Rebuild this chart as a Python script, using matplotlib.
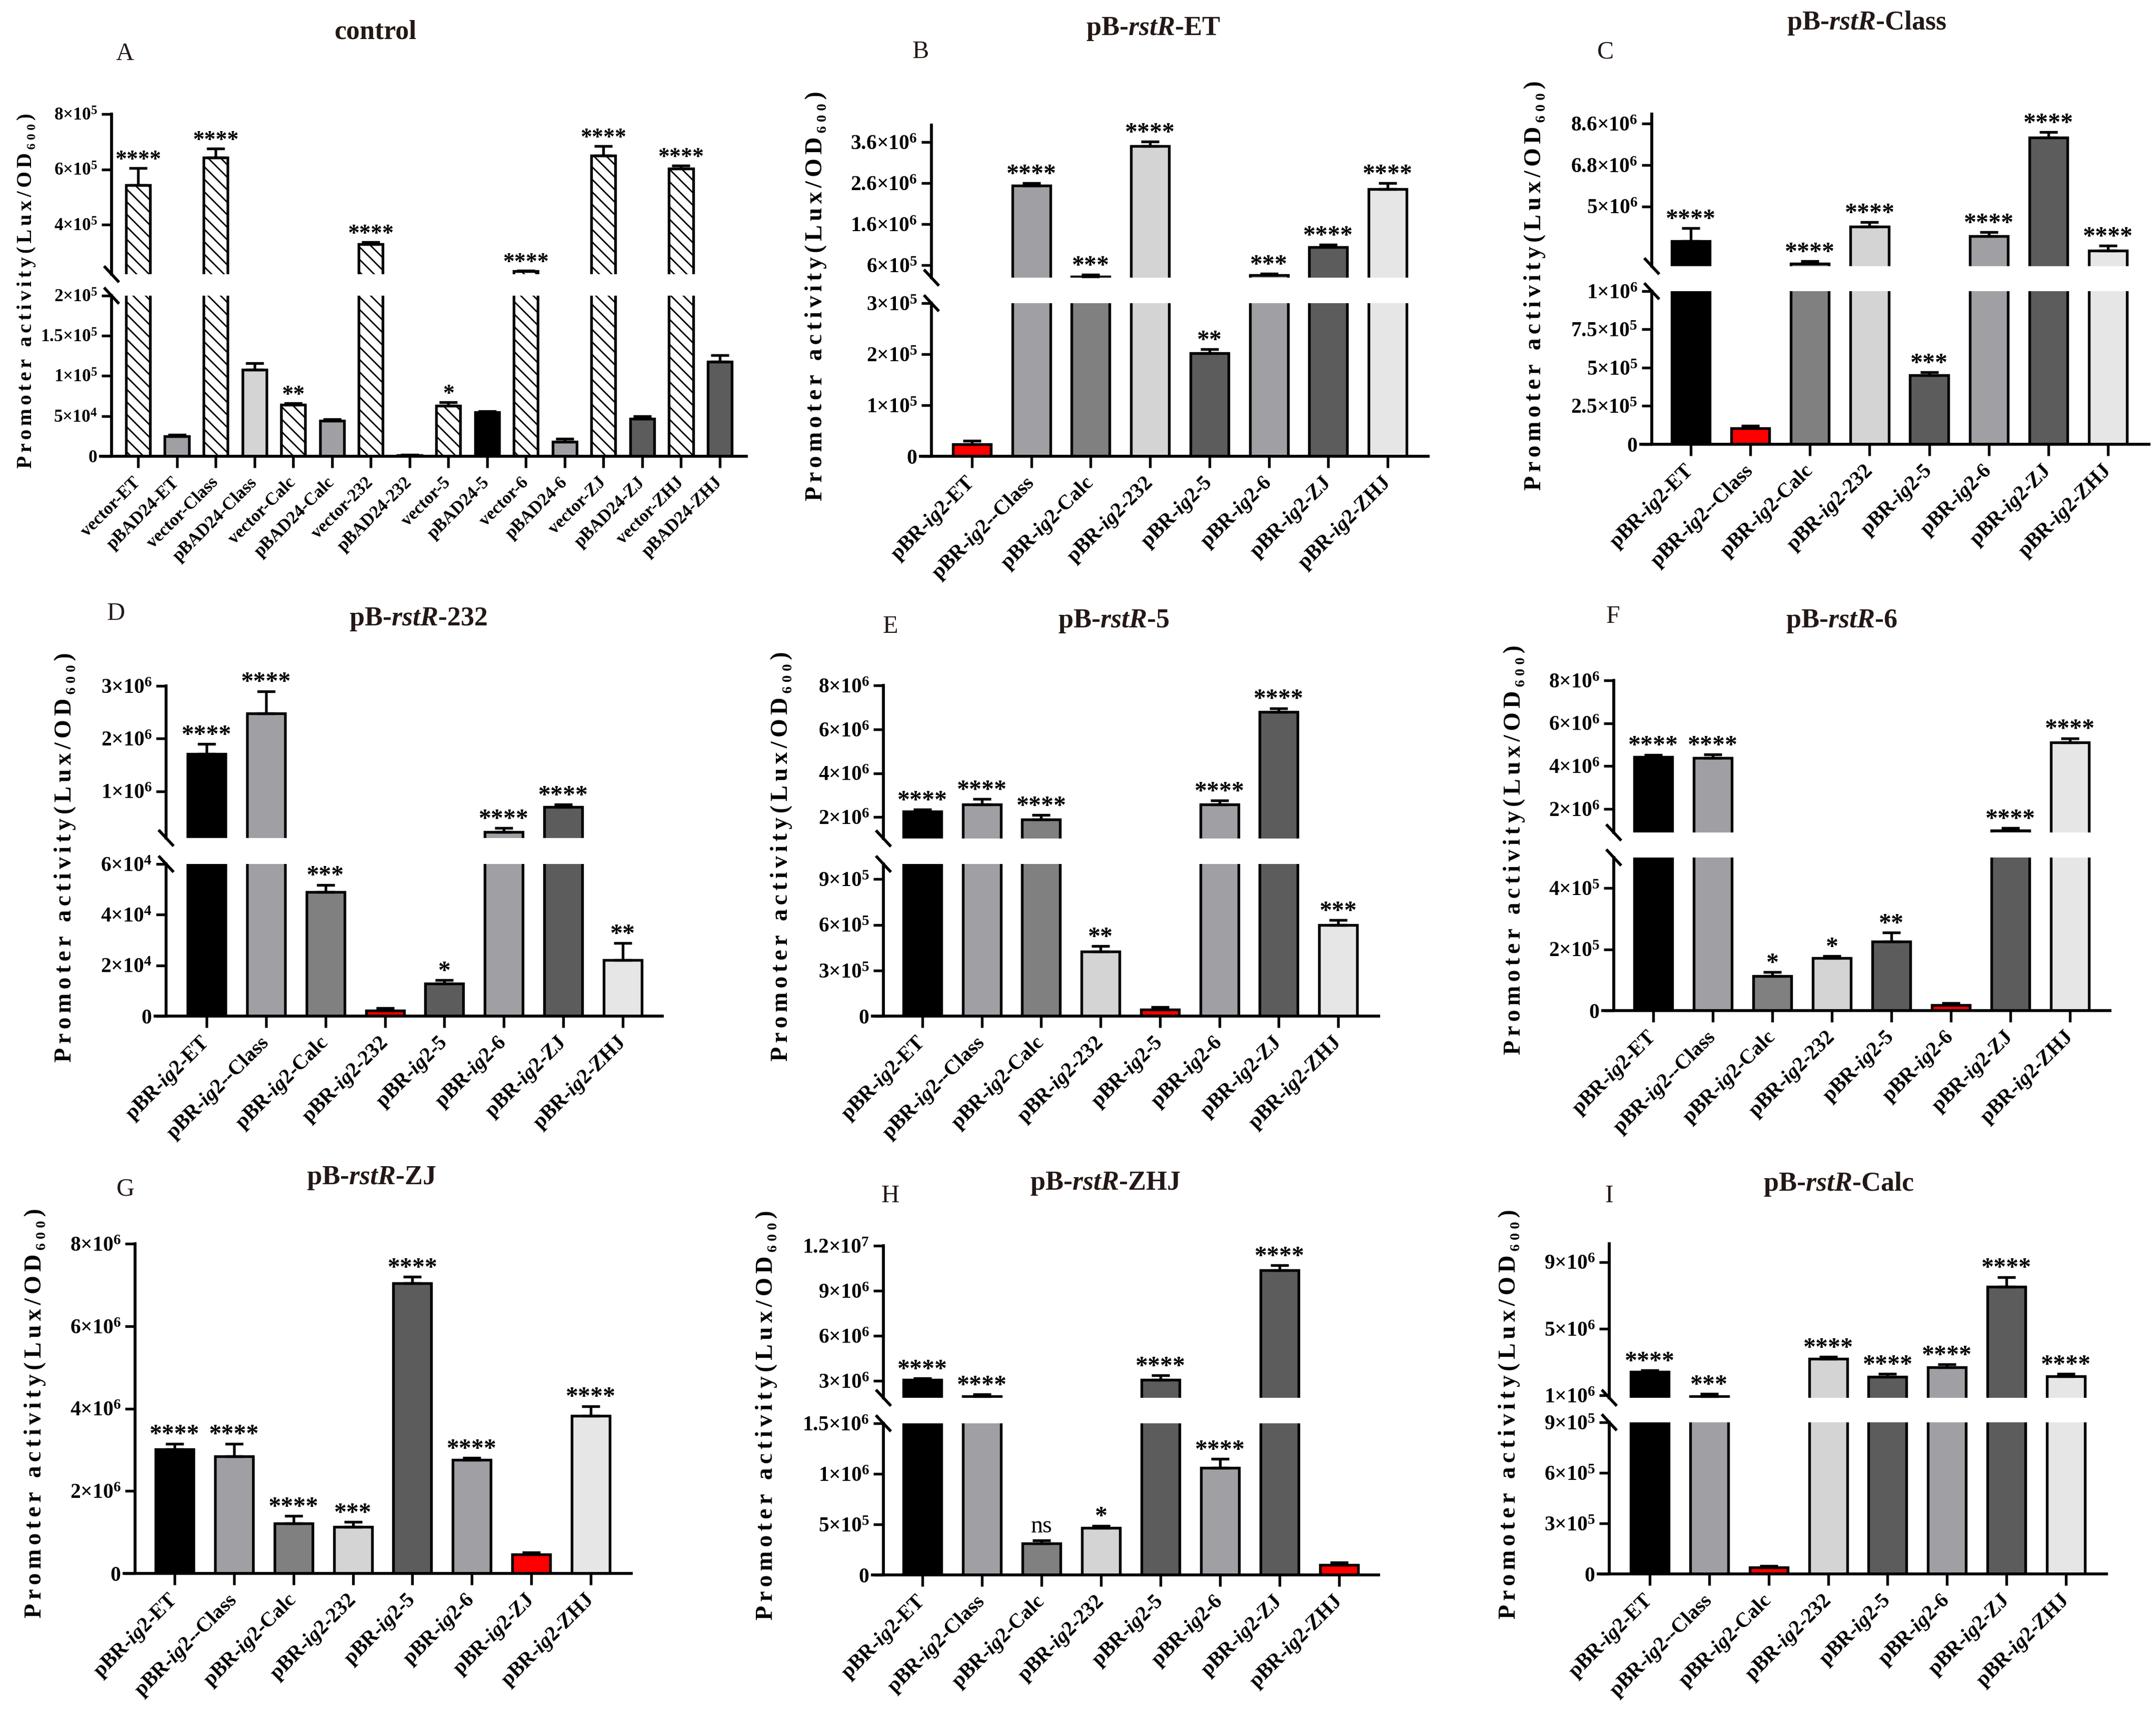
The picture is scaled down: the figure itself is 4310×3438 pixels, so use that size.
import numpy as np
import matplotlib
matplotlib.use('Agg')
import matplotlib.pyplot as plt
from matplotlib.lines import Line2D

plt.rcParams['font.family'] = ['Liberation Serif', 'DejaVu Serif']
plt.rcParams['mathtext.fontset'] = 'custom'
plt.rcParams['mathtext.rm'] = 'Liberation Serif:bold'
plt.rcParams['mathtext.bf'] = 'Liberation Serif:bold'
plt.rcParams['mathtext.it'] = 'Liberation Serif:italic:bold'
plt.rcParams['hatch.linewidth'] = 0.7
plt.rcParams['hatch.color'] = 'black'

W, H, DPI = 4310, 3438, 300

# colours
BK = '#000000'; G1 = '#a0a0a4'; G2 = '#808080'; G3 = '#d4d4d4'
G4 = '#5b5c5b'; G5 = '#e6e6e6'; RED = '#ff0000'; WH = '#ffffff'
HT = '\\\\\\\\'

# ---------------- data ----------------
# A: control
a_labels = ['vector-ET', 'pBAD24-ET', 'vector-Class', 'pBAD24-Class', 'vector-Calc',
            'pBAD24-Calc', 'vector-232', 'pBAD24-232', 'vector-5', 'pBAD24-5',
            'vector-6', 'pBAD24-6', 'vector-ZJ', 'pBAD24-ZJ', 'vector-ZHJ', 'pBAD24-ZHJ']
a_mean = [5.44e5, 2.5e4, 6.42e5, 1.08e5, 6.4e4, 4.4e4, 3.3e5, 1.5e3,
          6.3e4, 5.5e4, 2.32e5, 1.8e4, 6.5e5, 4.7e4, 6.03e5, 1.18e5]
a_err = [6.1e4, 2e3, 3.3e4, 8e3, 2e3, 2e3, 8e3, 5e2,
         4e3, 1e3, 2e3, 4e3, 3.4e4, 3e3, 1.1e4, 8e3]
a_sig = ['****', '', '****', '', '**', '', '****', '', '*', '', '****', '', '****', '', '****', '']
a_col = [WH, G1, WH, G3, WH, G1, WH, G3, WH, BK, WH, G1, WH, G4, WH, G4]
a_hatch = [HT, None] * 8

# B-I: pBR-ig2 reporters
ig2 = ['ET', 'Class', 'Calc', '232', '5', '6', 'ZJ', 'ZHJ']
lab_dd = [r'pBR-$\mathit{ig2}$--Class' if s == 'Class' else r'pBR-$\mathit{ig2}$-' + s for s in ig2]
lab_d = [r'pBR-$\mathit{ig2}$-' + s for s in ig2]
base_col = [BK, G1, G2, G3, G4, G1, G4, G5]

b_mean = [2.4e4, 2.54e6, 3.2e5, 3.51e6, 2.02e5, 3.6e5, 1.04e6, 2.46e6]
b_err = [6e3, 6e4, 5.6e4, 1.1e5, 8e3, 4e4, 6e4, 1.4e5]
b_sig = ['', '****', '***', '****', '**', '***', '****', '****']

c_mean = [3.48e6, 1.05e5, 2.5e6, 4.12e6, 4.52e5, 3.7e6, 8.0e6, 3.08e6]
c_err = [5.7e5, 1.5e4, 1.2e5, 2e5, 1.8e4, 1.8e5, 2.3e5, 2.2e5]
c_sig = ['****', '', '****', '****', '***', '****', '****', '****']

d_mean = [1.71e6, 2.48e6, 4.89e4, 2.2e3, 1.28e4, 2.3e5, 7.0e5, 2.22e4]
d_err = [1.9e5, 4.2e5, 2.9e3, 1.0e3, 1.4e3, 7e4, 5e4, 6.6e3]
d_sig = ['****', '****', '***', '', '*', '****', '****', '**']

e_mean = [2.27e6, 2.57e6, 1.9e6, 4.23e5, 4.4e4, 2.57e6, 6.8e6, 5.98e5]
e_err = [8e4, 2.5e5, 2e5, 3.6e4, 1.6e4, 1.8e5, 1.6e5, 3.2e4]
e_sig = ['****', '****', '****', '**', '', '****', '****', '***']

f_mean = [4.43e6, 4.38e6, 1.13e5, 1.71e5, 2.25e5, 1.8e4, 1.0e6, 5.1e6]
f_err = [1e5, 1.7e5, 1.3e4, 7e3, 3e4, 6e3, 1e5, 2e5]
f_sig = ['****', '****', '*', '*', '**', '', '****', '****']

g_mean = [3.01e6, 2.84e6, 1.22e6, 1.13e6, 7.04e6, 2.76e6, 4.6e5, 3.82e6]
g_err = [1.4e5, 3.1e5, 1.8e5, 1.2e5, 1.6e5, 4e4, 5e4, 2.4e5]
g_sig = ['****', '****', '****', '***', '****', '****', '', '****']

h_mean = [3.05e6, 1.95e6, 3.1e5, 4.65e5, 3.05e6, 1.06e6, 1.036e7, 1.0e5]
h_err = [1.2e5, 1.5e5, 3e4, 2.2e4, 3.2e5, 9e4, 3.4e5, 2.6e4]
h_sig = ['****', '****', 'ns', '*', '****', '****', '****', '']

i_mean = [2.4e6, 0.93e6, 3.9e4, 3.19e6, 2.1e6, 2.67e6, 7.53e6, 2.15e6]
i_err = [1e5, 1.5e5, 8e3, 1.3e5, 2e5, 2e5, 5.7e5, 1.5e5]
i_sig = ['****', '***', '', '****', '****', '****', '****', '****']


def red_at(k):
    c = list(base_col)
    c[k] = RED
    return c


def fmt(v):
    if v == 0:
        return r'$\mathbf{0}$'
    e = int(np.floor(np.log10(v) + 1e-9))
    m = round(v / 10 ** e, 2)
    return r'$\mathbf{%g{\times}10^{%d}}$' % (m, e)


fig = plt.figure(figsize=(W / DPI, H / DPI), dpi=DPI)


def fx(x):
    return x / W


def fy(y):
    return 1 - y / H


def brk_mark(x, y):
    fig.add_artist(Line2D([fx(x - 13), fx(x + 13)], [fy(y - 14), fy(y + 14)],
                          transform=fig.transFigure, color='k', lw=1.4))


def panel(g, labels, mean, err, sig, cols, hatches, ranges, ticks, title, letter,
          bw=0.64, ys=10, xs=10, ss=12, ls=11.5):
    n = len(mean)
    x = np.arange(n)
    sp = (g['last'] - g['first']) / (n - 1)
    xstart = g['spine'] - 22
    wid = g['right'] - xstart
    xl = (xstart - g['first']) / sp
    xr = (n - 1) + (g['right'] - g['last']) / sp
    if len(ranges) == 2:
        segs = [(g['brk_bot'], g['base']), (g['top'], g['brk_top'])]
    else:
        segs = [(g['top'], g['base'])]
    axes = []
    for k, (y0, y1) in enumerate(segs):
        ax = fig.add_axes([fx(xstart), fy(y1), wid / W, (y1 - y0) / H])
        ax.set_xlim(xl, xr)
        ax.set_ylim(*ranges[k])
        bars = ax.bar(x, mean, bw, color=cols, edgecolor='k', linewidth=1.3, zorder=2)
        for b, h in zip(bars, hatches):
            if h:
                b.set_hatch(h)
        ax.errorbar(x, mean, yerr=[np.zeros(n), err], fmt='none', ecolor='k',
                    elinewidth=1.3, capsize=4.4, capthick=1.3, zorder=3)
        for s in ['top', 'right']:
            ax.spines[s].set_visible(False)
        ax.spines['left'].set_position(('axes', 22 / wid))
        ax.spines['left'].set_linewidth(1.4)
        ax.spines['bottom'].set_linewidth(1.4)
        ax.set_yticks(ticks[k], labels=[fmt(t) for t in ticks[k]])
        ax.tick_params(axis='y', direction='out', length=4.8, width=1.3, labelsize=ys, pad=2)
        if k == 0:
            ax.set_xticks(x)
            ax.set_xticklabels(labels, rotation=45, ha='right', va='center',
                               rotation_mode='anchor', fontsize=xs, fontweight='bold')
            ax.tick_params(axis='x', direction='out', length=5.5, width=1.3, pad=6)
        else:
            ax.spines['bottom'].set_visible(False)
            ax.set_xticks([])
        ax.patch.set_alpha(0)
        axes.append(ax)
    # significance labels
    for i in range(n):
        if not sig[i]:
            continue
        top = mean[i] + err[i]
        ax = axes[0] if (len(axes) == 1 or top <= ranges[0][1]) else axes[1]
        if sig[i] == 'ns':
            ax.annotate('ns', (i, top), xytext=(0, 4), textcoords='offset points',
                        ha='center', va='baseline', fontsize=ss - 0.5)
        else:
            ax.annotate(sig[i], (i, top), xytext=(0, 1), textcoords='offset points',
                        ha='center', va='baseline', fontsize=ss, fontweight='bold')
    if len(ranges) == 2:
        brk_mark(g['spine'], g['brk_top'])
        brk_mark(g['spine'], g['brk_bot'])
    fig.text(fx(g['title'][0]), fy(g['title'][1]), title, ha='center', va='center',
             fontsize=13, fontweight='bold', color='#231815')
    fig.text(fx(g['letter'][0]), fy(g['letter'][1]), letter, ha='center', va='center',
             fontsize=12, color='#231815')
    ylab = '\u2006'.join('Promoter activity(Lux/OD\u2086\u2080\u2080)')
    fig.text(fx(g['ylab'][0]), fy(g['ylab'][1]), ylab, rotation=90, ha='center',
             va='center', fontsize=ls, fontweight='bold')


geo = {
    'A': dict(spine=223, first=276, last=1439, right=1492, top=228, brk_top=548, brk_bot=591,
              base=912, title=(750, 65), letter=(250, 108), ylab=(53, 581)),
    'B': dict(spine=1862, first=1943, last=2774, right=2855, top=250, brk_top=555, brk_bot=606,
              base=912, title=(2305, 58), letter=(1840, 104), ylab=(1631, 592)),
    'C': dict(spine=3302, first=3380, last=4214, right=4296, top=228, brk_top=532, brk_bot=582,
              base=888, title=(3732, 46), letter=(3210, 104), ylab=(3068, 571)),
    'D': dict(spine=332, first=413, last=1245, right=1324, top=1371, brk_top=1675, brk_bot=1727,
              base=2031, title=(836, 1238), letter=(232, 1227), ylab=(130, 1714)),
    'E': dict(spine=1766, first=1844, last=2675, right=2756, top=1370, brk_top=1676, brk_bot=1727,
              base=2031, title=(2226, 1242), letter=(1780, 1253), ylab=(1562, 1712)),
    'F': dict(spine=3226, first=3305, last=4138, right=4218, top=1360, brk_top=1664, brk_bot=1714,
              base=2020, title=(3682, 1242), letter=(3224, 1233), ylab=(3027, 1699)),
    'G': dict(spine=270, first=349, last=1181, right=1262, top=2486,
              base=3145, title=(743, 2355), letter=(251, 2377), ylab=(70, 2825)),
    'H': dict(spine=1766, first=1844, last=2677, right=2756, top=2490, brk_top=2794, brk_bot=2845,
              base=3148, title=(2210, 2366), letter=(1780, 2391), ylab=(1532, 2829)),
    'I': dict(spine=3217, first=3298, last=4130, right=4211, top=2486, brk_top=2794, brk_bot=2843,
              base=3146, title=(3676, 2367), letter=(3217, 2391), ylab=(3017, 2827)),
}

nh = [None] * 8

panel(geo['A'], a_labels, a_mean, a_err, a_sig, a_col, a_hatch,
      [(0, 2e5), (2.22e5, 8e5)], [[0, 5e4, 1e5, 1.5e5, 2e5], [4e5, 6e5, 8e5]],
      'control', 'A', bw=0.62, ys=8.5, xs=8.5, ss=11, ls=10)
panel(geo['B'], lab_dd, b_mean, b_err, b_sig, red_at(0), nh,
      [(0, 3e5), (3e5, 4.02e6)], [[0, 1e5, 2e5, 3e5], [6e5, 1.6e6, 2.6e6, 3.6e6]],
      r'pB-$\mathit{rstR}$-ET', 'B')
panel(geo['C'], lab_dd, c_mean, c_err, c_sig, red_at(1), nh,
      [(0, 1e6), (2.4e6, 9.02e6)], [[0, 2.5e5, 5e5, 7.5e5, 1e6], [5e6, 6.8e6, 8.6e6]],
      r'pB-$\mathit{rstR}$-Class', 'C')
panel(geo['D'], lab_dd, d_mean, d_err, d_sig, red_at(3), nh,
      [(0, 6e4), (1.12e5, 3e6)], [[0, 2e4, 4e4, 6e4], [1e6, 2e6, 3e6]],
      r'pB-$\mathit{rstR}$-232', 'D')
panel(geo['E'], lab_dd, e_mean, e_err, e_sig, red_at(4), nh,
      [(0, 1e6), (1.03e6, 8e6)], [[0, 3e5, 6e5, 9e5], [2e6, 4e6, 6e6, 8e6]],
      r'pB-$\mathit{rstR}$-5', 'E')
panel(geo['F'], lab_dd, f_mean, f_err, f_sig, red_at(5), nh,
      [(0, 5e5), (0.9e6, 8e6)], [[0, 2e5, 4e5], [2e6, 4e6, 6e6, 8e6]],
      r'pB-$\mathit{rstR}$-6', 'F')
panel(geo['G'], lab_dd, g_mean, g_err, g_sig, red_at(6), nh,
      [(0, 8e6)], [[0, 2e6, 4e6, 6e6, 8e6]],
      r'pB-$\mathit{rstR}$-ZJ', 'G')
panel(geo['H'], lab_d, h_mean, h_err, h_sig, red_at(7), nh,
      [(0, 1.5e6), (1.86e6, 1.2e7)], [[0, 5e5, 1e6, 1.5e6], [3e6, 6e6, 9e6, 1.2e7]],
      r'pB-$\mathit{rstR}$-ZHJ', 'H')
panel(geo['I'], lab_dd, i_mean, i_err, i_sig, red_at(2), nh,
      [(0, 9e5), (0.85e6, 1.01e7)], [[0, 3e5, 6e5, 9e5], [1e6, 5e6, 9e6]],
      r'pB-$\mathit{rstR}$-Calc', 'I')

fig.savefig('out.png', dpi=DPI)
